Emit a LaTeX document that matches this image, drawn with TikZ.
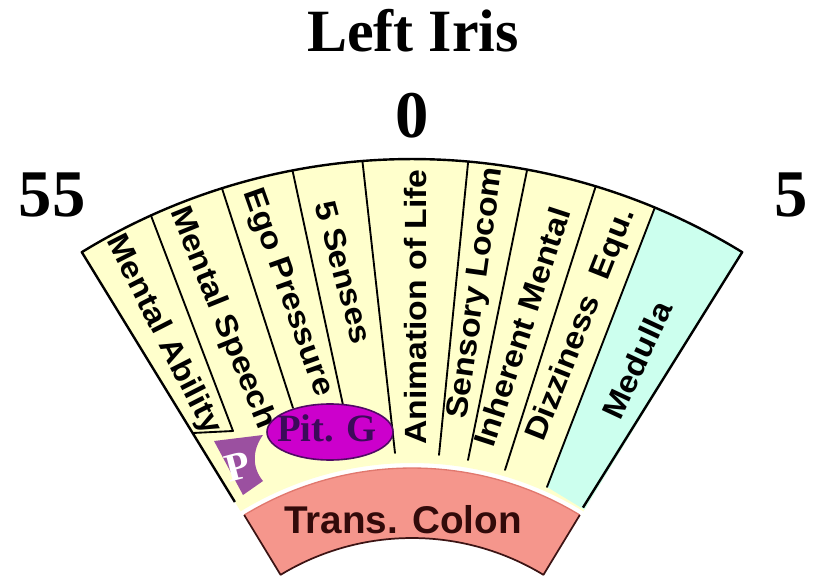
\documentclass[tikz,border=0pt]{standalone}
\usepackage{fontspec}
\usepackage{graphicx}
\setmainfont{Liberation Serif}
\setsansfont{Liberation Sans}
\usetikzlibrary{calc}
\definecolor{fanyellow}{RGB}{255,255,204}
\definecolor{medcyan}{RGB}{204,255,238}
\definecolor{colonpink}{RGB}{245,150,140}
\definecolor{colonedge}{RGB}{60,20,20}
\definecolor{colontop}{RGB}{225,120,110}
\definecolor{pitmag}{RGB}{204,0,204}
\definecolor{pitedge}{RGB}{80,10,100}
\definecolor{pittxt}{RGB}{60,10,90}
\definecolor{pshape}{RGB}{155,80,160}
\definecolor{colontxt}{RGB}{50,10,10}
\begin{document}
\begin{tikzpicture}[x=0.75pt,y=-0.75pt,
  bigserif/.style={font=\fontsize{50}{60}\selectfont\bfseries, inner sep=0pt},
  titlefont/.style={font=\fontsize{45}{54}\selectfont\bfseries, inner sep=0pt},
  lab/.style={font=\sffamily\bfseries\fontsize{23}{26}\selectfont, inner sep=0pt},
  divider/.style={line width=1.4pt, line cap=round},
  fanedge/.style={line width=1.8pt, line join=round},
]
\useasboundingbox (0,0) rectangle (814,581);
\coordinate (C) at (412,791);

% yellow fan
\fill[fanyellow] ($(C)+(-121.5:632)$) arc[start angle=-121.5,end angle=-58.5,radius=632]
  -- ($(C)+(-58.5:328)$) arc[start angle=-58.5,end angle=-121.5,radius=328] -- cycle;

% medulla region
\fill[medcyan] ($(C)+(-67.4:632)$) arc[start angle=-67.4,end angle=-58.5,radius=632]
  -- ($(C)+(-58.5:330)$) -- (547,487) -- cycle;

% divider tops on the outer arc
\coordinate (t1) at ($(C)+(-114.4:632)$);
\coordinate (t2) at ($(C)+(-107.5:632)$);
\coordinate (t3) at ($(C)+(-100.9:632)$);
\coordinate (t4) at ($(C)+(-94.5:632)$);
\coordinate (t5) at ($(C)+(-84.9:632)$);
\coordinate (t6) at ($(C)+(-79.5:632)$);
\coordinate (t7) at ($(C)+(-73.1:632)$);
\coordinate (t8) at ($(C)+(-67.4:632)$);
\coordinate (b1) at (233,431);
\coordinate (b2) at (293,408);
\coordinate (b3) at (343,405);
\coordinate (b4) at (395,453);
\coordinate (b5) at (439,455);
\coordinate (b6) at (468,460);
\coordinate (b7) at (505,470);
\coordinate (b8) at (547,487);
\foreach \i in {1,...,8} { \draw[divider] (t\i) -- (b\i); }

% bottom of Mental Ability cell
\coordinate (ma) at (193,433);
\draw[divider] (ma) -- (b1);

% fan outline
\coordinate (fl) at ($(C)+(-121.5:339)$);
\coordinate (fr) at ($(C)+(-58.9:331)$);
\draw[fanedge] (fl) -- ($(C)+(-121.5:632)$) arc[start angle=-121.5,end angle=-58.5,radius=632] -- (fr);

% labels
\node[lab, rotate=-63] (mab) at (163,335) {\scalebox{1.1}[1]{Mental Ability}};
\node[lab, rotate=-68] (msp) at (222,318) {\scalebox{1.1}[1]{Mental Speech}};
\node[lab, rotate=-70.5] (ego) at (287,293) {\scalebox{1.1}[1]{Ego Pressure}};
\node[lab, rotate=-75] (sen) at (344,272) {\scalebox{1.1}[1]{5 Senses}};
\node[lab, rotate=90] (ani) at (416,307) {\scalebox{1.1}[1]{Animation of Life}};
\node[lab, rotate=82] (loc) at (477,293) {\scalebox{1.1}[1]{Sensory Locom}};
\node[lab, rotate=72] (inh) at (522,327) {\scalebox{1.1}[1]{Inherent Mental}};
\node[lab, rotate=68.4] (diz) at (582,325) {\scalebox{1.1}[1]{Dizziness\hspace{0.6em}Equ.}};
\node[lab, rotate=65] (med) at (637,360) {\scalebox{1.1}[1]{Medulla}};

% P shape
\fill[pshape] (214,441) -- (263,435) .. controls (252,450) and (252,468) .. (263,481) -- (243,495) -- cycle;
\node[font=\fontsize{30}{36}\selectfont\bfseries, text=white, rotate=15, inner sep=0pt] (p) at (238,467) {P};

% Pit. G ellipse
\draw[fill=pitmag, draw=pitedge, line width=1.2pt] (330,432) ellipse[x radius=63, y radius=28];
\node[font=\fontsize{29}{34}\selectfont\bfseries, text=pittxt, inner sep=0pt, anchor=base] (pit) at (327,441) {Pit. G};

% Transverse colon band
\fill[colonpink] ($(C)+(-121.3:323)$) arc[start angle=-121.3,end angle=-58.7,radius=323]
  -- ($(C)+(-58.7:253)$) arc[start angle=-58.7,end angle=-121.3,radius=253] -- cycle;
\draw[colontop, line width=1pt] ($(C)+(-121.3:323)$) arc[start angle=-121.3,end angle=-58.7,radius=323];
\draw[colonedge, line width=1.3pt, line join=round] ($(C)+(-121.3:323)$) -- ($(C)+(-121.3:253)$)
  arc[start angle=-121.3,end angle=-58.7,radius=253] -- ($(C)+(-58.7:323)$);
\node[font=\sffamily\bfseries\fontsize{29}{34}\selectfont, text=colontxt, inner sep=0pt, anchor=base] (colon) at (403,533) {Trans. Colon};

% title and numbers
\node[titlefont, anchor=base] (title) at (413,52) {Left Iris};
\node[bigserif, anchor=base] (zero) at (412.5,138) {0};
\node[bigserif, anchor=base] (n55) at (52,217) {55};
\node[bigserif, anchor=base] (n5) at (791,217) {5};
\end{tikzpicture}
\end{document}
